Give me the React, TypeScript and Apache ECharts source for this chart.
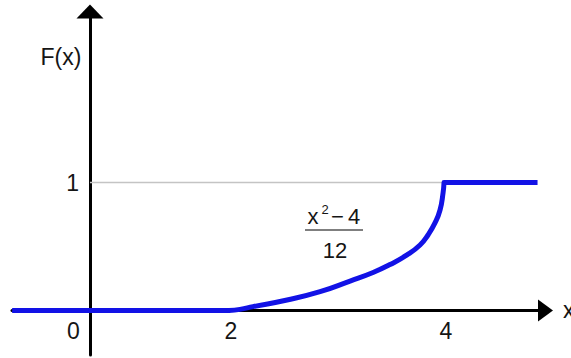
import React, { useEffect, useRef } from "react";
import * as echarts from "echarts";

// ---- data ----
const xTicks = [0, 2, 4];
const yTicks = [1];
const lowerLevel = 0;
const upperLevel = 1;
const leftLineStart = -1.12; // where the blue line starts on the left
const rightLineEnd = 4.87; // where the blue line stops on the right
const curveX = [2.0, 2.102, 2.223, 2.54, 2.847, 3.126, 3.34, 3.498, 3.656, 3.777, 3.851, 3.916, 3.963, 3.991, 4.0];
const curveY = [0.0, 0.009, 0.03, 0.082, 0.147, 0.23, 0.297, 0.359, 0.434, 0.512, 0.59, 0.684, 0.785, 0.918, 1.0];
const yAxisName = "F(x)";
const xAxisName = "x";

const FONT = "'Liberation Sans', Arial, sans-serif";
const BLUE = "#1212e6";
const INK = "#151515";

export default function App() {
  const ref = useRef<HTMLDivElement>(null);

  useEffect(() => {
    if (!ref.current) return;
    const chart = echarts.init(ref.current, undefined, { renderer: "svg" });

    const yMin = -0.3477;
    const yMax = 2.336;
    const xMinA = -1.122;
    const xMaxB = 4.944;
    const splitAt = 2; // the two panels meet at x = 2

    const gridTop = 11.5;
    const gridHeight = 343.5;
    const gridALeft = 12;
    const gridAWidth = 217;
    const gridBWidth = 316.5;

    // place the axes on the zero lines by shifting them from the grid edges
    const yAxisShift = -((0 - xMinA) / (splitAt - xMinA)) * gridAWidth;
    const xAxisShift = -((0 - yMin) / (yMax - yMin)) * gridHeight;

    const commonY = {
      type: "value" as const,
      min: yMin,
      max: yMax,
      splitLine: { show: false },
      axisTick: { show: false },
    };

    const labelStyle = { fontSize: 23, color: INK, fontFamily: FONT };

    const option: any = {
      animation: false,
      backgroundColor: "#ffffff",
      grid: [
        { left: gridALeft, top: gridTop, width: gridAWidth, height: gridHeight, containLabel: false, outerBoundsMode: "none" },
        { left: gridALeft + gridAWidth, top: gridTop, width: gridBWidth, height: gridHeight, containLabel: false, outerBoundsMode: "none" },
      ],
      xAxis: [
        {
          gridIndex: 0,
          type: "value",
          position: "bottom",
          offset: xAxisShift,
          min: xMinA,
          max: splitAt,
          axisLine: { show: true, onZero: false, lineStyle: { color: "#000", width: 3 } },
          axisTick: { show: false },
          splitLine: { show: false },
          axisLabel: {
            ...labelStyle,
            customValues: xTicks.filter((v) => v < splitAt),
            formatter: (v: number) => String(v),
            margin: 9,
            padding: [0, 33, 0, 0],
          },
        },
        {
          gridIndex: 1,
          type: "value",
          position: "bottom",
          offset: xAxisShift,
          min: splitAt,
          max: xMaxB,
          axisLine: {
            show: true,
            onZero: false,
            symbol: ["none", "triangle"],
            symbolSize: [22, 15],
            lineStyle: { color: "#000", width: 3 },
          },
          axisTick: { show: false },
          splitLine: { show: false },
          axisLabel: {
            ...labelStyle,
            customValues: xTicks.filter((v) => v >= splitAt),
            formatter: (v: number) => String(v),
            margin: 9,
            padding: [0, 0, 0, 4],
          },
          name: xAxisName,
          nameLocation: "end",
          nameGap: 17.5,
          nameTextStyle: { ...labelStyle, align: "left", verticalAlign: "middle" },
        },
      ],
      yAxis: [
        {
          ...commonY,
          gridIndex: 0,
          position: "left",
          offset: yAxisShift,
          axisLine: {
            show: true,
            onZero: false,
            symbol: ["none", "triangle"],
            symbolSize: [27, 14],
            lineStyle: { color: "#000", width: 3 },
          },
          axisLabel: {
            ...labelStyle,
            customValues: yTicks,
            formatter: (v: number) => String(v),
            margin: 11,
          },
        },
        {
          ...commonY,
          gridIndex: 1,
          axisLine: { show: false, onZero: false },
          axisLabel: { show: false },
        },
      ],
      series: [
        {
          type: "line",
          xAxisIndex: 0,
          yAxisIndex: 0,
          data: [
            [0, upperLevel],
            [splitAt, upperLevel],
          ],
          symbol: "none",
          lineStyle: { color: "#c4c4c4", width: 1.5 },
          z: 1,
          silent: true,
        },
        {
          type: "line",
          xAxisIndex: 1,
          yAxisIndex: 1,
          data: [
            [splitAt, upperLevel],
            [xTicks[2], upperLevel],
          ],
          symbol: "none",
          lineStyle: { color: "#c4c4c4", width: 1.5 },
          z: 1,
          silent: true,
        },
        {
          type: "line",
          xAxisIndex: 0,
          yAxisIndex: 0,
          data: [
            [leftLineStart, lowerLevel],
            [splitAt, lowerLevel],
          ],
          symbol: "none",
          lineStyle: { color: BLUE, width: 5 },
          z: 3,
        },
        {
          type: "line",
          xAxisIndex: 1,
          yAxisIndex: 1,
          data: curveX.map((x, i) => [x, curveY[i]]),
          symbol: "none",
          smooth: 0.5,
          lineStyle: { color: BLUE, width: 5, cap: "round", join: "round" },
          z: 3,
        },
        {
          type: "line",
          xAxisIndex: 1,
          yAxisIndex: 1,
          data: [
            [xTicks[2], upperLevel],
            [rightLineEnd, upperLevel],
          ],
          symbol: "none",
          lineStyle: { color: BLUE, width: 5 },
          z: 3,
        },
      ],
      graphic: [
        {
          type: "text",
          x: 61,
          y: 57,
          style: { text: yAxisName, fontSize: 23, fontFamily: FONT, fill: INK, align: "center", verticalAlign: "middle" },
        },
        {
          type: "group",
          children: [
            { type: "text", x: 313, y: 216, style: { text: "x", fontSize: 22, fontFamily: FONT, fill: INK, align: "center", verticalAlign: "middle" } },
            { type: "text", x: 325, y: 209, style: { text: "2", fontSize: 13, fontFamily: FONT, fill: INK, align: "center", verticalAlign: "middle" } },
            { type: "text", x: 337.5, y: 216, style: { text: "\u2212", fontSize: 22, fontFamily: FONT, fill: INK, align: "center", verticalAlign: "middle" } },
            { type: "text", x: 354, y: 216.5, style: { text: "4", fontSize: 22, fontFamily: FONT, fill: INK, align: "center", verticalAlign: "middle" } },
            { type: "line", shape: { x1: 305, y1: 230, x2: 363, y2: 230 }, style: { stroke: "#555", lineWidth: 1.5 } },
            { type: "text", x: 335, y: 250, style: { text: "12", fontSize: 22, fontFamily: FONT, fill: INK, align: "center", verticalAlign: "middle" } },
          ],
        },
      ],
    };

    chart.setOption(option);
    return () => chart.dispose();
  }, []);

  return (
    <div
      ref={ref}
      style={{ position: "absolute", left: 0, top: 0, width: 571, height: 358, background: "#fff" }}
    />
  );
}
